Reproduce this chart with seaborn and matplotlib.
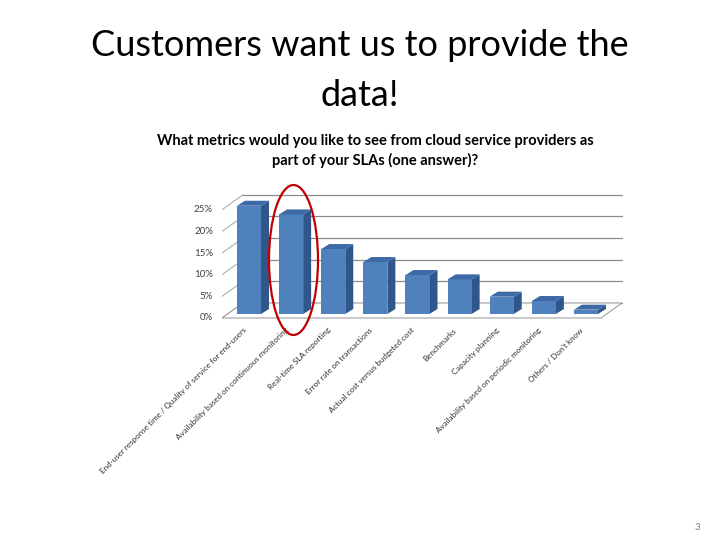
import matplotlib
matplotlib.use("Agg")
import matplotlib.pyplot as plt
import seaborn as sns
import numpy as np
from matplotlib.patches import Polygon, Ellipse

categories = [
    "End-user response time / Quality of service for end-users",
    "Availability based on continuous monitoring",
    "Real-time SLA reporting",
    "Error rate on transactions",
    "Actual cost versus budgeted cost",
    "Benchmarks",
    "Capacity planning",
    "Availability based on periodic monitoring",
    "Others / Don't know",
]
values = [25, 23, 15, 12, 9, 8, 4, 3, 1]
ytick_values = [0, 5, 10, 15, 20, 25]
ytick_labels = ["0%", "5%", "10%", "15%", "20%", "25%"]

sns.set_theme(style="white")
plt.rcParams["font.family"] = ["Lato", "DejaVu Sans"]

W, H = 720, 540
fig = plt.figure(figsize=(7.2, 5.4), dpi=100)
fig.patch.set_facecolor("white")

# axes geometry (pixels)
px_c0, px_step = 249.0, 42.125
px_y0, px_per = 314.0, 4.33
L, R, T, B = 222, 625, 190, 322
ax = fig.add_axes([L / W, 1 - B / H, (R - L) / W, (B - T) / H])

sns.barplot(x=categories, y=values, ax=ax, color="#4F81BD", width=0.57,
            saturation=1, zorder=3, edgecolor="none")
bars = list(ax.patches)

ax.set_xlim((L - px_c0) / px_step, (R - px_c0) / px_step)
ax.set_ylim(-(B - px_y0) / px_per, (px_y0 - T) / px_per)
ax.axis("off")

def dx(p):
    return p / px_step

def dy(p):
    return p / px_per

# 3D-like frame: floor, back wall gridlines, side wall diagonals
xl_front = dx(222 - px_c0)
xr_front = dx(601 - px_c0)
xl_back = dx(243 - px_c0)
xr_back = dx(622 - px_c0)
y_front = -dy(318 - px_y0)
y_back = dy(px_y0 - 303)
grid_col = "#8c8c8c"
for v, lab in zip(ytick_values, ytick_labels):
    ax.plot([xl_back, xr_back], [v + y_back, v + y_back], color=grid_col, lw=0.9, zorder=1)
    ax.plot([xl_front, xl_back], [v + y_front, v + y_front + (y_back - y_front)],
            color="#b0b0b0", lw=0.8, zorder=1)
    ax.text(xl_front - dx(9), v + y_front, lab, ha="right", va="center",
            fontsize=7, color="#404040")
floor = Polygon([[xl_front, y_front], [xr_front, y_front], [xr_back, y_back], [xl_back, y_back]],
                closed=True, facecolor="white", edgecolor="#a0a0a0", lw=0.8, zorder=1.5)
ax.add_patch(floor)

ddx, ddy = dx(8), dy(5)
for p in bars:
    x0 = p.get_x(); w = p.get_width(); h = p.get_height()
    side = Polygon([[x0 + w, 0], [x0 + w + ddx, ddy], [x0 + w + ddx, h + ddy], [x0 + w, h]],
                   closed=True, facecolor="#30578C", edgecolor="none", zorder=2.9)
    top = Polygon([[x0, h], [x0 + w, h], [x0 + w + ddx, h + ddy], [x0 + ddx, h + ddy]],
                  closed=True, facecolor="#3D69A6", edgecolor="none", zorder=3.1)
    ax.add_patch(side)
    ax.add_patch(top)

# x labels rotated
for i, lab in enumerate(categories):
    ax.text(i - dx(4), -dy(329 - px_y0), lab, rotation=45, ha="right", va="center",
            rotation_mode="anchor", fontsize=5.8, color="#303030")

# titles
fig.text(360 / W, 1 - 45 / H, "Customers want us to provide the", ha="center", va="center",
         fontsize=26, color="#000000")
fig.text(360 / W, 1 - 95 / H, "data!", ha="center", va="center", fontsize=26, color="#000000")
fig.text(375 / W, 1 - 141 / H, "What metrics would you like to see from cloud service providers as",
         ha="center", va="center", fontsize=10.5, fontweight="bold", color="#000000")
fig.text(375 / W, 1 - 160 / H, "part of your SLAs (one answer)?",
         ha="center", va="center", fontsize=10.5, fontweight="bold", color="#000000")
fig.text(697 / W, 1 - 527 / H, "3", ha="center", va="center", fontsize=7, color="#808080")

# red highlight ellipse
ell = Ellipse((293.5 / W, 1 - 260 / H), 49 / W, 150 / H, transform=fig.transFigure,
              facecolor="none", edgecolor="#C00000", lw=1.6, zorder=10)
fig.patches.append(ell)

fig.savefig("out.png", dpi=100, facecolor="white")
